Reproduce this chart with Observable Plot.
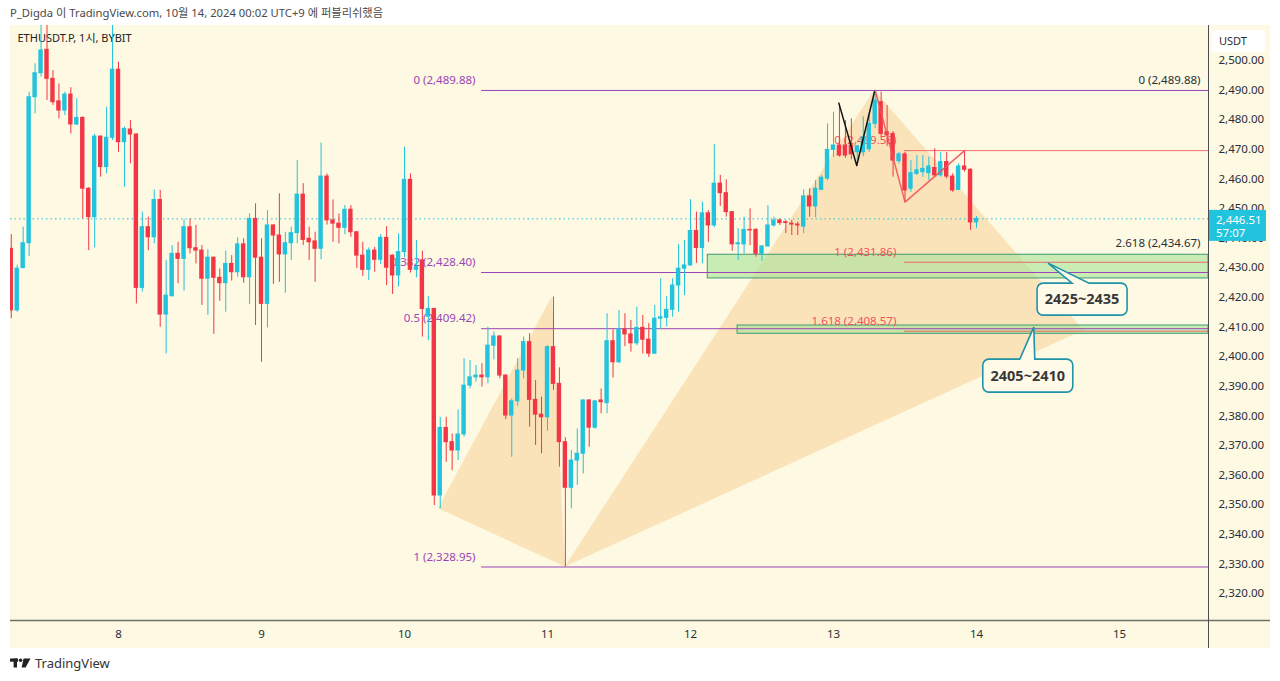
<!DOCTYPE html>
<html>
<head>
<meta charset="utf-8">
<script src="https://cdn.jsdelivr.net/npm/d3@7"></script>
<script src="https://cdn.jsdelivr.net/npm/@observablehq/plot@0.6"></script>
<style>
  body { margin:0; background:#ffffff; width:1280px; height:681px; overflow:hidden; position:relative;
         font-family:"Noto Sans","Noto Sans CJK KR",sans-serif; }
  #header { position:absolute; left:10px; top:5px; font-size:11.25px; line-height:16px; color:#4a4a4a; white-space:nowrap; }
  #panel { position:absolute; left:10px; top:25px; width:1260px; height:623px; background:#fdf9e2; }
  #panel svg { display:block; }
  #footer { position:absolute; left:10px; top:655px; height:16px; display:flex; align-items:center; gap:4px;
            font-size:13px; color:#333; }
</style>
</head>
<body>
<div id="header">P_Digda 이 TradingView.com, 10월 14, 2024 00:02 UTC+9 에 퍼블리쉬했음</div>
<div id="panel"></div>
<div id="footer">
  <svg width="21" height="10" viewBox="0 0 21 10">
    <rect x="0" y="0.5" width="8" height="3.2" fill="#222"/>
    <rect x="3.6" y="0.5" width="3.4" height="9" fill="#222"/>
    <circle cx="10.6" cy="2.2" r="1.8" fill="#222"/>
    <polygon points="13.6,0.5 20.5,0.5 15.6,9.5 11.6,9.5" fill="#222"/>
  </svg>
  <span>TradingView</span>
</div>
<script>
// ---------- DATA ----------
const title = "ETHUSDT.P, 1시, BYBIT";
// hourly candles, hour index counted from Oct 7 00:00 (UTC+9); first candle = hour 6
const startHour = 6;
const opens = [
2436.4,2415.6,2429.9,2438.3,2487.6,2495.7,2503.6,2493.8,2486.2,2483.1,2488.5,2478.4,2480.6,2456.7,2447.1,2474.3,2464.0,2473.9,
2496.9,2472.4,2476.7,2475.0,2423.2,2443.7,2440.3,2452.9,2414.2,2420.4,2434.7,2433.0,2443.7,2436.6,2435.8,2426.3,2433.4,2426.6,
2424.8,2431.3,2428.5,2437.9,2426.8,2446.5,2433.4,2417.8,2444.3,2440.9,2434.5,2438.3,2441.7,2454.7,2439.8,2438.9,2436.4,2460.8,
2446.0,2444.9,2443.5,2449.6,2442.0,2434.1,2429.3,2435.8,2432.7,2440.1,2434.1,2427.4,2435.3,2459.7,2429.3,2432.5,2413.5,2416.1,
2353.1,2375.9,2371.1,2368.3,2373.7,2390.2,2393.0,2393.6,2393.0,2403.7,2406.8,2393.6,2380.1,2384.9,2395.3,2404.9,2385.4,2380.4,
2379.5,2403.2,2390.8,2371.1,2355.7,2364.9,2367.2,2385.2,2376.0,2385.2,2384.3,2405.2,2398.1,2409.1,2407.5,2404.5,2409.7,2405.7,
2401.0,2412.8,2413.1,2415.8,2424.0,2429.7,2430.8,2442.4,2436.7,2448.4,2444.3,2458.4,2455.2,2448.8,2437.9,2437.9,2442.8,2442.8,
2434.7,2437.2,2444.3,2446.0,2445.4,2444.9,2444.6,2443.9,2454.1,2450.7,2456.3,2460.1,2469.8,2471.3,2471.3,2471.3,2469.0,2469.0,
2470.0,2478.6,2485.9,2475.8,2475.2,2466.0,2468.3,2456.7,2461.7,2462.3,2461.95,2463.7,2461.2,2465.7,2460.8,2456.3,2464.2,2463.1,
2445.3];
const highs = [
2441.2,2430.8,2443.7,2489.3,2498.9,2516.0,2515.0,2496.6,2492.1,2489.3,2490.8,2487.1,2481.0,2457.0,2475.0,2474.5,2484.2,2513.0,
2499.4,2477.5,2479.7,2475.3,2448.8,2447.1,2456.3,2456.1,2432.5,2437.5,2438.6,2446.2,2446.5,2444.3,2437.5,2436.1,2433.6,2429.6,
2435.6,2434.1,2440.1,2439.8,2448.2,2451.6,2439.8,2449.3,2444.5,2455.0,2442.0,2443.7,2466.2,2458.4,2443.7,2442.0,2472.1,2461.7,
2452.9,2448.2,2451.0,2451.0,2442.2,2438.6,2436.7,2436.9,2441.2,2443.9,2434.3,2441.5,2470.7,2461.7,2439.2,2435.6,2420.3,2416.3,
2379.5,2379.5,2373.9,2382.0,2399.3,2398.7,2397.0,2397.6,2409.9,2408.3,2407.0,2393.8,2385.7,2399.3,2406.6,2407.7,2391.9,2386.3,
2403.7,2420.1,2396.2,2372.6,2368.3,2375.6,2385.4,2385.4,2385.2,2389.1,2414.5,2409.1,2415.6,2414.5,2412.2,2416.7,2413.9,2411.1,
2417.3,2426.3,2420.3,2426.3,2437.9,2439.2,2453.0,2448.8,2452.2,2449.3,2471.6,2461.2,2459.7,2449.0,2443.2,2447.1,2449.9,2443.2,
2437.5,2451.0,2447.1,2446.5,2446.0,2446.0,2445.4,2456.3,2456.7,2459.5,2461.2,2478.6,2482.5,2484.5,2479.7,2480.3,2471.3,2481.0,
2482.0,2489.88,2489.3,2484.8,2476.0,2469.0,2469.0,2466.2,2467.9,2467.9,2467.4,2470.2,2469.0,2469.0,2461.7,2465.1,2469.56,2463.4,
2447.3];
const lows = [
2412.8,2415.0,2429.7,2433.8,2482.0,2494.4,2486.5,2484.8,2480.3,2481.4,2475.2,2478.0,2446.5,2435.8,2436.7,2460.6,2461.7,2473.0,
2469.0,2457.2,2465.1,2417.8,2421.8,2435.8,2438.1,2409.9,2400.9,2420.1,2424.6,2422.1,2434.7,2431.3,2417.3,2413.9,2407.5,2418.7,
2415.0,2425.5,2426.8,2424.8,2417.6,2410.5,2398.1,2409.7,2424.4,2425.1,2421.4,2432.5,2438.1,2437.5,2432.5,2425.1,2432.7,2444.4,
2438.6,2438.1,2441.2,2440.3,2429.7,2427.1,2425.7,2428.5,2431.1,2424.0,2421.0,2423.5,2433.4,2428.2,2426.6,2406.6,2405.4,2349.7,
2348.6,2364.3,2361.5,2364.9,2372.8,2389.1,2391.4,2389.7,2390.8,2398.9,2392.5,2378.7,2366.0,2383.2,2392.5,2376.2,2370.0,2367.2,
2374.8,2388.6,2362.7,2328.95,2348.6,2356.5,2360.4,2369.4,2375.5,2380.7,2380.7,2392.8,2397.6,2403.4,2401.5,2403.7,2400.9,2399.7,
2400.7,2409.1,2410.0,2413.3,2415.0,2420.6,2430.5,2431.5,2431.3,2438.6,2443.5,2450.7,2447.1,2435.6,2432.5,2434.7,2437.5,2433.6,
2432.2,2437.0,2443.7,2444.3,2441.5,2440.9,2440.9,2441.5,2447.1,2446.9,2456.1,2459.5,2467.3,2467.4,2467.0,2466.5,2464.5,2467.5,
2469.0,2477.0,2474.0,2471.0,2460.6,2465.1,2452.18,2455.5,2461.2,2460.6,2459.5,2460.6,2460.6,2460.0,2455.5,2456.1,2462.3,2442.6,
2443.2];
const closes = [
2415.6,2429.7,2438.3,2487.6,2495.7,2503.4,2493.8,2485.9,2483.1,2488.5,2478.4,2480.6,2456.7,2447.1,2474.3,2464.0,2473.9,2496.9,
2472.4,2476.9,2475.0,2423.2,2443.7,2440.3,2452.9,2414.2,2420.6,2434.7,2433.0,2443.7,2436.6,2435.8,2426.3,2433.4,2426.6,2424.8,
2431.3,2428.5,2437.9,2426.8,2446.5,2433.4,2417.8,2444.3,2440.9,2434.5,2438.3,2441.7,2454.7,2439.4,2438.6,2436.4,2460.8,2446.0,
2444.9,2443.5,2449.6,2442.0,2434.1,2429.3,2435.8,2432.7,2440.1,2430.0,2427.4,2435.3,2459.7,2429.3,2430.2,2416.1,2416.1,2353.1,
2375.9,2371.1,2368.3,2373.7,2390.2,2393.0,2393.6,2393.0,2403.7,2406.8,2393.6,2380.1,2384.9,2395.3,2404.9,2385.4,2380.4,2379.5,
2403.2,2390.8,2371.1,2355.7,2364.9,2367.2,2385.2,2376.0,2384.9,2384.6,2405.2,2398.1,2409.1,2407.5,2404.5,2409.7,2405.7,2401.0,
2412.8,2413.3,2415.8,2424.0,2429.7,2430.8,2442.4,2436.7,2448.4,2444.3,2458.4,2455.2,2448.8,2437.9,2438.3,2442.8,2442.6,2434.7,
2437.2,2444.3,2446.0,2445.1,2445.1,2444.6,2444.3,2454.1,2450.7,2456.7,2460.4,2469.8,2471.3,2467.9,2467.9,2468.3,2471.0,2474.0,
2478.6,2486.5,2475.2,2474.7,2466.2,2468.3,2456.1,2461.95,2462.9,2463.4,2464.2,2461.2,2465.7,2460.8,2456.1,2464.2,2463.1,2445.3,
2446.51];

const dayTicks  = [24, 48, 72, 96, 120, 144, 168, 192];
const dayLabels = ["8", "9", "10", "11", "12", "13", "14", "15"];
const priceTicks = [2320,2330,2340,2350,2360,2370,2380,2390,2400,2410,2420,2430,2440,2450,2460,2470,2480,2490,2500];

// Fib retracement (purple)
const fibRatios = ["0", "0.382", "0.5", "1"];
const fibPrices = [2489.88, 2428.40, 2409.42, 2328.95];
const fibStartHour = 84.93;
// Trend-based fib extension (red)
const extRatios = ["0", "1", "1.618"];
const extPrices = [2469.56, 2431.86, 2408.57];
const extStartHour = 155.9;
const extPathHours  = [151, 156, 166];
const extPathPrices = [2489.88, 2452.18, 2469.56];
// labels on the right edge
const rightLabelTexts  = ["0 (2,489.88)", "2.618 (2,434.67)"];
const rightLabelPrices = [2489.88, 2434.67];
// W zig-zag (black)
const wHours  = [144.9, 147.9, 150.9];
const wPrices = [2485.6, 2464.5, 2489.6];
// XABCD harmonic pattern
const patternHours  = [77.7, 96.8, 99.0, 150.9, 186.0];
const patternPrices = [2348.6, 2420.1, 2328.95, 2489.88, 2408.8];
// Target zones
const zoneLabels = ["2425~2435", "2405~2410"];
const zoneStart  = [122.9, 127.9];
const zoneLow    = [2426.4, 2407.7];
const zoneHigh   = [2434.4, 2410.5];
const calloutHours  = [180.1, 177.7];
const calloutPrices = [2431.4, 2409.8];
// current price
const lastPrice = 2446.51;
const countdown = "57:07";
const currency = "USDT";

// ---------- CHART ----------
const up = "#22c3dc", down = "#f23645", purple = "#9c44b8", red = "#f0525c", teal = "#1f93a8";
const fmt = d3.format(",.2f");
const xDomain = [5.873, 206.94];
const yDomain = [2310.88, 2511.82];
const W = 1260, H = 623, MR = 62, MB = 28;

const candles = opens.map((o, i) => ({t: startHour + i, open: o, high: highs[i], low: lows[i], close: closes[i]}));
const col = d => d.close >= d.open ? up : down;
const fibs = fibPrices.map((p, i) => ({price: p, ratio: fibRatios[i], x1: fibStartHour, x2: xDomain[1]}));
const exts = extPrices.map((p, i) => ({price: p, ratio: extRatios[i], x1: extStartHour, x2: xDomain[1]}));
const rights = rightLabelPrices.map((p, i) => ({price: p, text: rightLabelTexts[i], x: xDomain[1]}));
const zones = zoneLabels.map((l, i) => ({label: l, x1: zoneStart[i], x2: xDomain[1], low: zoneLow[i], high: zoneHigh[i]}));
const wPts = wHours.map((h, i) => ({t: h, p: wPrices[i]}));
const extPts = extPathHours.map((h, i) => ({t: h, p: extPathPrices[i]}));
const P = patternHours.map((h, i) => [h, patternPrices[i]]);
const triangles = [[P[0], P[1], P[2]], [P[2], P[3], P[4]]];

const triangleMark = (index, {x, y}) => {
  const g = d3.create("svg:g");
  for (const tri of triangles) {
    g.append("polygon")
      .attr("points", tri.map(p => `${x(p[0])},${y(p[1])}`).join(" "))
      .attr("fill", "#f8c47e").attr("fill-opacity", 0.4);
  }
  return g.node();
};

const calloutGeom = [
  {l: -11, r: 79, t: 20, b: 52, w0: 24, w1: 41},
  {l: -51, r: 39, t: 32, b: 65, w0: -14, w1: 1}
];
const calloutMark = (index, {x, y}) => {
  const g = d3.create("svg:g");
  zoneLabels.forEach((label, i) => {
    const ax = x(calloutHours[i]), ay = y(calloutPrices[i]);
    const c = calloutGeom[i], rr = 6;
    const L = ax + c.l, R = ax + c.r, T = ay + c.t, B = ay + c.b;
    const d = `M${L + rr},${T} H${ax + c.w0} L${ax},${ay} L${ax + c.w1},${T} H${R - rr}
      A${rr},${rr} 0 0 1 ${R},${T + rr} V${B - rr} A${rr},${rr} 0 0 1 ${R - rr},${B}
      H${L + rr} A${rr},${rr} 0 0 1 ${L},${B - rr} V${T + rr} A${rr},${rr} 0 0 1 ${L + rr},${T} Z`;
    g.append("path").attr("d", d).attr("fill", "#fffbe8").attr("stroke", teal).attr("stroke-width", 1.6);
    g.append("text").attr("x", (L + R) / 2).attr("y", (T + B) / 2).attr("dy", "0.35em")
      .attr("text-anchor", "middle").attr("font-weight", "bold").attr("font-size", 14.5)
      .attr("fill", "#383838").text(label);
  });
  return g.node();
};

const chromeMark = (index, {x, y}, values, dims) => {
  const g = d3.create("svg:g").attr("text-anchor", "start");
  const fx = dims.width - dims.marginRight, fy = dims.height - dims.marginBottom;
  g.append("line").attr("x1", 0).attr("x2", dims.width).attr("y1", fy + 0.5).attr("y2", fy + 0.5)
    .attr("stroke", "#6f7266").attr("stroke-width", 1.6);
  g.append("line").attr("x1", fx + 0.5).attr("x2", fx + 0.5).attr("y1", 0).attr("y2", dims.height)
    .attr("stroke", "#4a4d55").attr("stroke-width", 1);
  // price label
  const py = y(lastPrice);
  g.append("rect").attr("x", fx + 1).attr("y", py - 8.5).attr("width", 57).attr("height", 31).attr("fill", up);
  g.append("text").attr("x", fx + 8).attr("y", py + 1.5).attr("dy", "0.35em").attr("fill", "#fff")
    .attr("text-anchor", "start").attr("font-size", 11.5).text(fmt(lastPrice));
  g.append("text").attr("x", fx + 8).attr("y", py + 14.5).attr("dy", "0.35em").attr("fill", "#fff")
    .attr("text-anchor", "start").attr("font-size", 11.5).text(countdown);
  // currency box
  g.append("rect").attr("x", fx + 3.5).attr("y", 5).attr("width", 54).attr("height", 22.5).attr("rx", 4)
    .attr("fill", "#ffffff");
  g.append("text").attr("x", fx + 11).attr("y", 16.5).attr("dy", "0.35em").attr("fill", "#2a2e39")
    .attr("text-anchor", "start").attr("font-size", 11).text(currency);
  return g.node();
};

const chart = Plot.plot({
  width: W, height: H,
  marginLeft: 0, marginRight: MR, marginTop: 0, marginBottom: MB,
  style: {background: "transparent", fontFamily: '"Noto Sans","Noto Sans CJK KR",sans-serif', overflow: "hidden"},
  x: {domain: xDomain},
  y: {domain: yDomain},
  color: {type: "identity"},
  marks: [
    Plot.text([title], {frameAnchor: "top-left", dx: 7, dy: 9, text: d => d, fontSize: 11, fill: "#222", textAnchor: "start"}),
    triangleMark,
    Plot.rect(zones, {x1: "x1", x2: "x2", y1: "low", y2: "high", fill: "#a6e397", fillOpacity: 0.6,
                      stroke: "#3c9a74", strokeWidth: 1, clip: true}),
    Plot.ruleY(fibs, {y: "price", x1: "x1", x2: "x2", stroke: purple, strokeWidth: 1, clip: true}),
    Plot.ruleY(exts, {y: "price", x1: "x1", x2: "x2", stroke: red, strokeOpacity: 0.85, strokeWidth: 1, clip: true}),
    Plot.text(fibs, {x: "x1", y: "price", text: d => `${d.ratio} (${fmt(d.price)})`, textAnchor: "end",
                     dx: -6, dy: -10, fill: purple, fontSize: 11.5}),
    Plot.text(exts, {x: "x1", y: "price", text: d => `${d.ratio} (${fmt(d.price)})`, textAnchor: "end",
                     dx: -8, dy: -10, fill: red, fontSize: 11.5}),
    Plot.text(rights, {x: "x", y: "price", text: "text", textAnchor: "end", dx: -8, dy: -10.5,
                       fill: "#2a2e39", fontSize: 11.5}),
    Plot.ruleY([lastPrice], {stroke: up, strokeDasharray: "1.5,3", strokeWidth: 1}),
    Plot.ruleX(candles, {x: "t", y1: "low", y2: "high", stroke: col, strokeWidth: 1, clip: true}),
    Plot.rect(candles, {x1: d => d.t - 0.37, x2: d => d.t + 0.37, y1: "open", y2: "close", fill: col,
                        insetTop: -0.5, insetBottom: -0.5, clip: true}),
    Plot.line(wPts, {x: "t", y: "p", stroke: "#111", strokeWidth: 1.5}),
    Plot.line(extPts, {x: "t", y: "p", stroke: red, strokeWidth: 1.5, strokeOpacity: 0.9}),
    Plot.axisY({ticks: priceTicks, anchor: "right", tickSize: 0, tickPadding: 10, tickFormat: fmt,
                fontSize: 11.5, fill: "#2a2e39", label: null}),
    Plot.axisX({ticks: dayTicks, tickSize: 0, tickPadding: 9, tickFormat: d => dayLabels[dayTicks.indexOf(d)],
                fontSize: 11.5, fill: "#2a2e39", label: null}),
    calloutMark,
    chromeMark
  ]
});
document.getElementById("panel").appendChild(chart);
</script>
</body>
</html>
